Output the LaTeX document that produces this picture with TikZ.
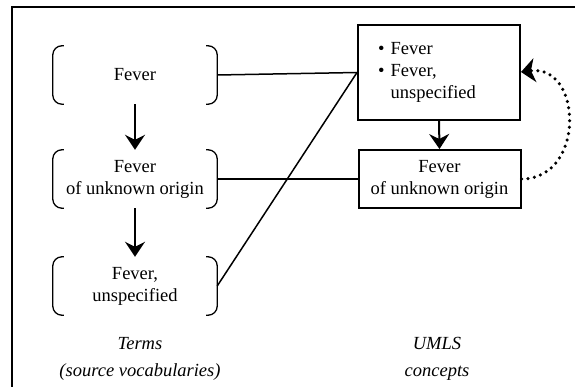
\documentclass[tikz,border=0pt]{standalone}
\usepackage{fontspec}
\setmainfont{Liberation Serif}
\usetikzlibrary{arrows.meta}
\begin{document}
\begin{tikzpicture}[x=1pt,y=-1pt,
  every node/.style={font=\fontsize{18.5}{22}\selectfont, align=center},
  termbox/.style={minimum width=164pt, minimum height=58pt, inner sep=0pt},
  bracket/.style={line width=1.3pt, rounded corners=9pt},
  conceptbox/.style={draw, line width=2pt, minimum width=162pt, inner sep=0pt},
  link/.style={line width=1.5pt},
  isa/.style={line width=2pt, -{Stealth[length=15pt, width=20pt, inset=5pt]}},
  caption/.style={font=\fontsize{18.5}{27}\selectfont\itshape}]
\useasboundingbox (0,0) rectangle (575,387);
% frame
\draw[line width=2pt] (575,7.3) -- (11.7,7.3) -- (11.7,387);

% source-vocabulary terms
\node[termbox] (t1) at (135,75)  {Fever};
\node[termbox] (t2) at (135,179) {Fever\\of unknown origin};
\node[termbox] (t3) at (135,286) {Fever,\\unspecified};
\foreach \n in {t1,t2,t3} {
  \draw[bracket] ([xshift=11pt]\n.north west) -- (\n.north west) -- (\n.south west) -- ([xshift=11pt]\n.south west);
  \draw[bracket] ([xshift=-11pt]\n.north east) -- (\n.north east) -- (\n.south east) -- ([xshift=-11pt]\n.south east);
}

% UMLS concepts
\node[conceptbox, minimum height=95pt, text width=122pt, inner xsep=20pt, align=left] (c1) at (439,72.5)
  {\textbullet\ Fever\\\textbullet\ Fever,\\\hphantom{\textbullet\ }unspecified};
\node[conceptbox, minimum height=58pt] (c2) at (439.5,179) {Fever\\of unknown origin};

% hierarchy arrows
\draw[isa] (t1.south) -- (t2.north);
\draw[isa] (t2.south) -- (t3.north);
\draw[isa] (c1.south) -- (c2.north);

% term-to-concept mappings
\draw[link] (t1.east) -- (c1.west);
\draw[link] (t2.east) -- (c2.west);
\draw[link] (t3.east) -- (c1.west);

% dotted relation
\draw[line width=3.5pt, line cap=round, dash pattern=on 0pt off 6.5pt,
      -{Stealth[length=14pt, width=24pt, inset=4pt]}]
  (c2.east) .. controls +(64,0) and +(62,-8) .. ([yshift=0.5pt]c1.east);

% captions
\node[caption] (lt) at (140,358.5) {Terms\\(source vocabularies)};
\node[caption] (lc) at (437,358.5) {UMLS\\concepts};
\end{tikzpicture}
\end{document}
